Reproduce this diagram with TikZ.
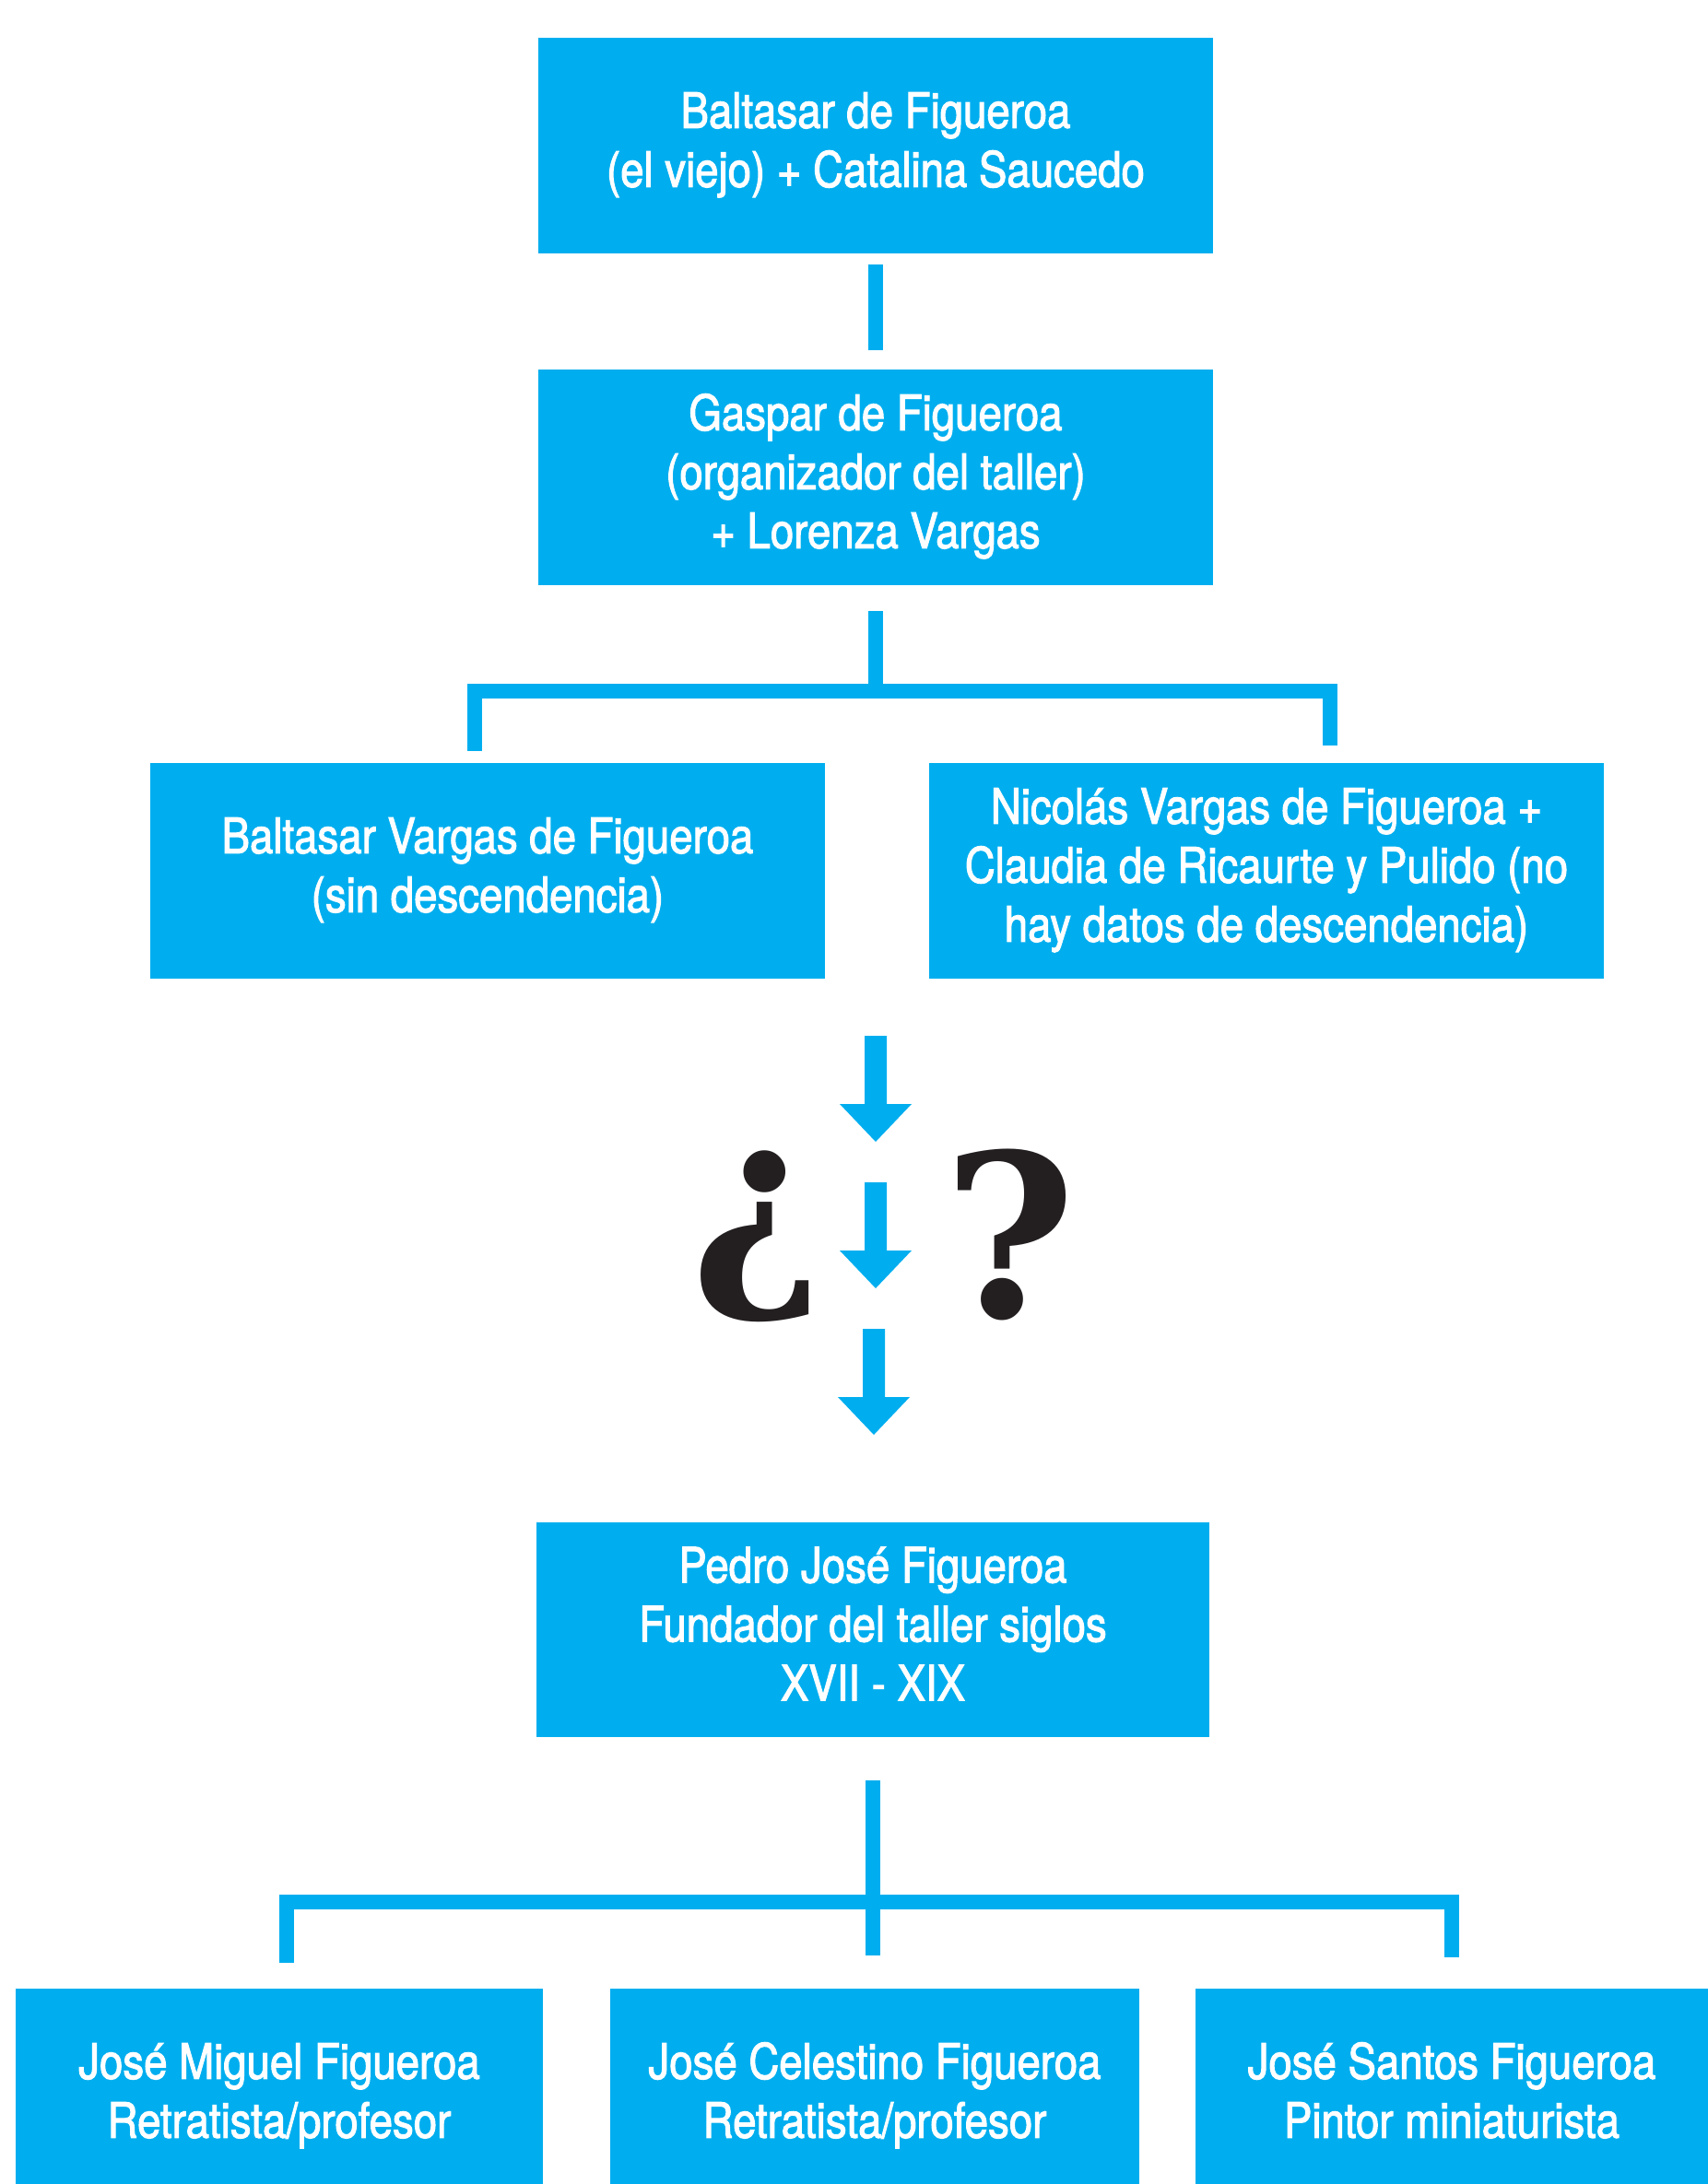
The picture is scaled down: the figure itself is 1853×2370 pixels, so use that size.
\documentclass[tikz,border=0pt]{standalone}
\usepackage{fontspec}
\setmainfont{TeX Gyre Heros}[FakeStretch=0.86, FakeBold=2]
\newfontfamily\qfont{DejaVu Serif}
\usepackage{graphicx}
\definecolor{brand}{HTML}{00AEEF}
\definecolor{ink}{HTML}{231F20}
\newcommand\Ln[1]{\strut#1}
\tikzset{
  box/.style={fill=brand, text=white, inner sep=0pt, align=center,
    minimum height=234, font=\fontsize{53}{64}\selectfont},
  conn/.style={draw=brand, line width=16, line join=miter, line cap=butt},
  dnarrow/.pic={\fill[brand] (-12,0) -- (12,0) -- (12,74) -- (39,74) -- (0,115) -- (-39,74) -- (-12,74) -- cycle;}
}
\begin{document}
\begin{tikzpicture}[x=1pt,y=-1pt]
\useasboundingbox (0,0) rectangle (1853,2370);
% boxes
\node[box, minimum width=732] (b1) at (950,158) {\Ln{Baltasar de Figueroa}\\\Ln{(el viejo) + Catalina Saucedo}};
\node[box, minimum width=732] (b2) at (950,518) {\Ln{Gaspar de Figueroa}\\\Ln{(organizador del taller)}\\\Ln{+ Lorenza Vargas}};
\node[box, minimum width=732] (b3) at (529,945) {\Ln{Baltasar Vargas de Figueroa}\\\Ln{(sin descendencia)}};
\node[box, minimum width=732] (b4) at (1374,945) {\Ln{Nicolás Vargas de Figueroa +}\\\Ln{Claudia de Ricaurte y Pulido (no}\\\Ln{hay datos de descendencia)}};
\node[box, minimum width=730, minimum height=233] (b5) at (947,1768.5) {\Ln{Pedro José Figueroa}\\\Ln{Fundador del taller siglos}\\\Ln{XVII - XIX}};
\node[box, minimum width=572] (b6) at (303,2275) {\Ln{José Miguel Figueroa}\\\Ln{Retratista/profesor}};
\node[box, minimum width=574] (b7) at (949,2275) {\Ln{José Celestino Figueroa}\\\Ln{Retratista/profesor}};
\node[box, minimum width=556] (b8) at (1575,2275) {\Ln{José Santos Figueroa}\\\Ln{Pintor miniaturista}};
% top connector
\draw[conn] ([yshift=-12pt]b1.south) -- ([yshift=21pt]b2.north);
% bracket 1
\coordinate (j1) at (950,749.5);
\coordinate (l1) at (514.7,815);
\coordinate (r1) at (1443,809);
\draw[conn] ([yshift=-28pt]b2.south) -- (b2.south |- j1);
\draw[conn] (l1) -- (l1 |- j1) -- (r1 |- j1) -- (r1);
% arrows and question marks
\pic at (950,1124) {dnarrow};
\pic at (950,1283) {dnarrow};
\pic at (948,1442) {dnarrow};
\node[inner sep=0pt, text=ink] (qa) at (822,1342) {\resizebox*{!}{186pt}{\qfont\bfseries ¿}};
\node[inner sep=0pt, text=ink] (qb) at (1095.5,1340) {\resizebox*{!}{186pt}{\qfont\bfseries ?}};
% bracket 2
\coordinate (j2) at (947,2064);
\coordinate (s2) at (947,2122);
\coordinate (l2) at (311,2130);
\coordinate (r2) at (1575,2124);
\draw[conn] ([yshift=-47pt]b5.south) -- (b5.south |- s2);
\draw[conn] (l2) -- (l2 |- j2) -- (r2 |- j2) -- (r2);
\end{tikzpicture}
\end{document}
